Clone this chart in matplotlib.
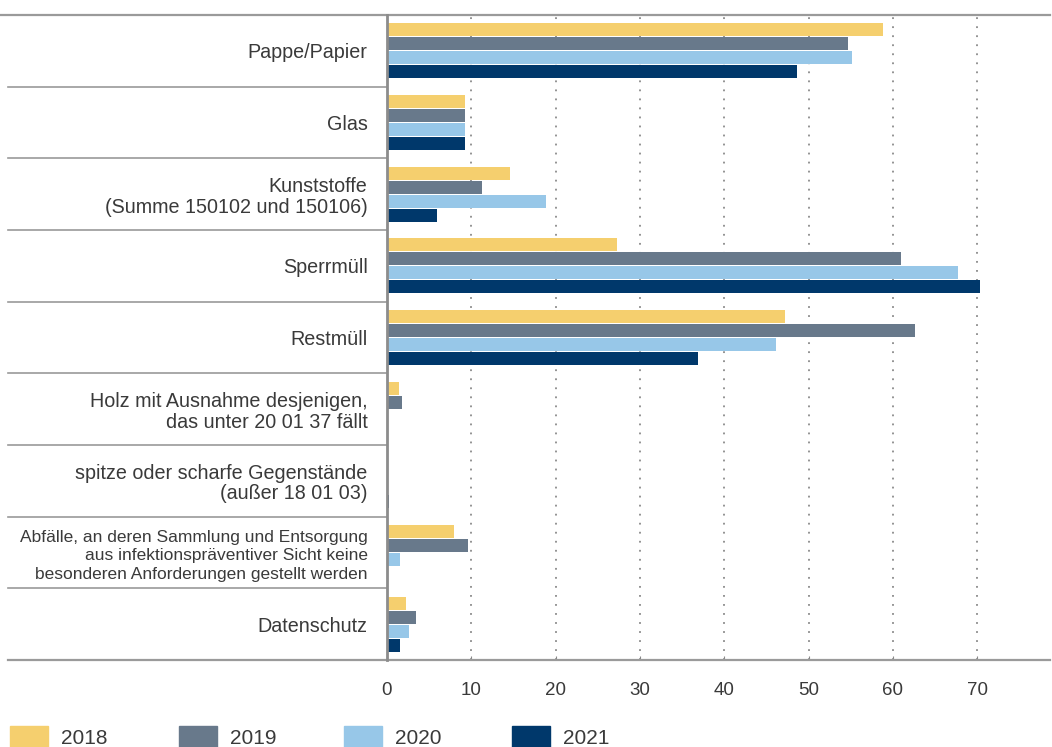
import matplotlib
matplotlib.use("Agg")
import matplotlib.pyplot as plt
import matplotlib.transforms as mtrans
from matplotlib.patches import Rectangle
import numpy as np

plt.rcParams['font.family'] = ['Liberation Sans', 'DejaVu Sans']

categories = [
    "Pappe/Papier",
    "Glas",
    "Kunststoffe\n(Summe 150102 und 150106)",
    "Sperrmüll",
    "Restmüll",
    "Holz mit Ausnahme desjenigen,\ndas unter 20 01 37 fällt",
    "spitze oder scharfe Gegenstände\n(außer 18 01 03)",
    "Abfälle, an deren Sammlung und Entsorgung\naus infektionspräventiver Sicht keine\nbesonderen Anforderungen gestellt werden",
    "Datenschutz",
]
years = ["2018", "2019", "2020", "2021"]
v2018 = [58.8, 9.25, 14.6, 27.3, 47.2, 1.4, 0.1, 7.9, 2.2]
v2019 = [54.7, 9.25, 11.3, 61.0, 62.6, 1.8, 0.15, 9.6, 3.4]
v2020 = [55.2, 9.25, 18.9, 67.7, 46.1, 0.0, 0.1, 1.5, 2.6]
v2021 = [48.6, 9.25, 5.9, 70.4, 36.9, 0.0, 0.2, 0.0, 1.6]
xticks = [0, 10, 20, 30, 40, 50, 60, 70]

colors = ["#F5CF6E", "#68798B", "#97C7E8", "#00386B"]
series = [v2018, v2019, v2020, v2021]
text_col = "#3a3a3a"

W, H = 1052, 747
fig = plt.figure(figsize=(W / 100, H / 100), dpi=100)
ax_left, ax_right, ax_top, ax_bot = 387, 1050, 15, 660
ax = fig.add_axes([ax_left / W, 1 - ax_bot / H, (ax_right - ax_left) / W, (ax_bot - ax_top) / H])

n = len(categories)
y = np.arange(n)
pitch = 0.195
height = 0.181
for k, (vals, col, yr) in enumerate(zip(series, colors, years)):
    ax.barh(y + (k - 1.5) * pitch, vals, height=height, color=col, label=yr, zorder=3)

ax.set_ylim(n - 0.5, -0.5)
ax.set_xlim(0, (ax_right - ax_left) / 8.43)

for xv in xticks[1:]:
    ax.axvline(xv, color="#8a8a8a", lw=1.3, ls=(0, (1, 4)), zorder=1)

ax.set_xticks(xticks)
ax.set_xticklabels([str(t) for t in xticks], fontsize=13.5, color=text_col)
ax.tick_params(axis="x", direction="in", length=3, color="#888888", pad=16)
ax.set_yticks(y)
ax.set_yticklabels(categories, color=text_col)
for lbl, cat in zip(ax.get_yticklabels(), categories):
    if cat.count("\n") == 2:
        lbl.set_fontsize(12.5)
        lbl.set_linespacing(1.33)
    else:
        lbl.set_fontsize(14.2)
        lbl.set_linespacing(1.11)
ax.tick_params(axis="y", length=0, pad=14)

for s in ["top", "right", "bottom"]:
    ax.spines[s].set_visible(False)
ax.spines["left"].set_color("#8c8c8c")
ax.spines["left"].set_linewidth(2)
ax.spines["left"].set_zorder(4)

# separators and frame lines
tr = mtrans.blended_transform_factory(fig.transFigure, ax.transData)
for b in np.arange(0.5, n - 0.5, 1.0):
    ax.plot([8 / W, ax_left / W], [b, b], transform=tr, color="#9a9a9a", lw=1.2, clip_on=False)
ax.plot([0, ax_right / W], [-0.5, -0.5], transform=tr, color="#9a9a9a", lw=1.6, clip_on=False)
ax.plot([8 / W, ax_right / W], [n - 0.5, n - 0.5], transform=tr, color="#9a9a9a", lw=1.6, clip_on=False)

# legend
leg_x = [10, 179, 344, 512]
for xp, col, yr in zip(leg_x, colors, years):
    fig.patches.append(Rectangle((xp / W, 1 - 747 / H), 38 / W, 21 / H,
                                 transform=fig.transFigure, color=col, clip_on=False))
    fig.text((xp + 51) / W, 1 - 738 / H, yr, fontsize=15, color=text_col, va="center", ha="left")

fig.savefig("out.png", dpi=100)
